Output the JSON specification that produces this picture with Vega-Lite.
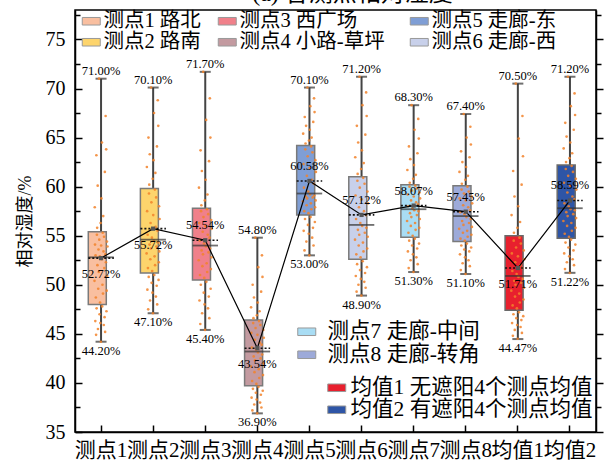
{
  "$schema": "https://vega.github.io/schema/vega-lite/v6.json",
  "width": 521,
  "height": 422,
  "autosize": {"type": "none"},
  "padding": {"left": 75, "top": 10, "right": 19, "bottom": 37},
  "background": "white",
  "title": {"text": "(a) 各测点相对湿度", "fontSize": 24, "font": "Liberation Serif, Noto Sans CJK SC", "fontWeight": "normal", "color": "#000", "anchor": "middle", "offset": 4, "dx": 17},
  "config": {
    "font": "Liberation Serif, Noto Sans CJK SC",
    "view": {"stroke": "#000", "strokeWidth": 1.5},
    "axis": {"domainColor": "#000", "domainWidth": 1.5, "tickColor": "#000", "tickWidth": 1.5, "labelColor": "#000", "titleColor": "#000", "labelFont": "Liberation Serif, Noto Sans CJK SC", "titleFont": "Liberation Serif, Noto Sans CJK SC", "titleFontWeight": "normal", "grid": false},
    "legend": {"labelFont": "Liberation Serif, Noto Sans CJK SC", "labelFontSize": 20.5, "labelColor": "#000", "symbolSize": 324, "symbolStrokeColor": "#999", "symbolStrokeWidth": 1, "symbolOpacity": 1, "padding": 0, "labelLimit": 400, "symbolType": "M-1,-0.42H1V0.42H-1Z"}
  },
  "datasets": {
    "stats": [
      {"site": "测点1", "label": "测点1 路北", "min": 44.20, "q1": 48.0, "median": 52.8, "q3": 55.4, "max": 71.00, "mean": 52.72},
      {"site": "测点2", "label": "测点2 路南", "min": 47.10, "q1": 51.2, "median": 54.6, "q3": 59.8, "max": 70.10, "mean": 55.72},
      {"site": "测点3", "label": "测点3 西广场", "min": 45.40, "q1": 50.5, "median": 54.0, "q3": 57.8, "max": 71.70, "mean": 54.54},
      {"site": "测点4", "label": "测点4 小路-草坪", "min": 36.90, "q1": 39.7, "median": 43.2, "q3": 46.4, "max": 54.80, "mean": 43.54},
      {"site": "测点5", "label": "测点5 走廊-东", "min": 53.00, "q1": 57.1, "median": 59.3, "q3": 64.2, "max": 70.10, "mean": 60.58},
      {"site": "测点6", "label": "测点6 走廊-西", "min": 48.90, "q1": 52.6, "median": 56.1, "q3": 61.0, "max": 71.20, "mean": 57.12},
      {"site": "测点7", "label": "测点7 走廊-中间", "min": 51.30, "q1": 54.85, "median": 57.7, "q3": 60.2, "max": 68.30, "mean": 58.07},
      {"site": "测点8", "label": "测点8 走廊-转角", "min": 51.10, "q1": 54.4, "median": 57.0, "q3": 60.1, "max": 67.40, "mean": 57.45},
      {"site": "均值1", "label": "均值1 无遮阳4个测点均值", "min": 44.47, "q1": 47.4, "median": 50.9, "q3": 55.0, "max": 70.50, "mean": 51.71},
      {"site": "均值2", "label": "均值2 有遮阳4个测点均值", "min": 51.22, "q1": 54.74, "median": 57.8, "q3": 62.2, "max": 71.20, "mean": 58.59}
    ],
    "samples": [
      {"site":"测点1","n":1,"rh":50.4},{"site":"测点1","n":2,"rh":57.9},{"site":"测点1","n":3,"rh":54.1},{"site":"测点1","n":4,"rh":46.3},{"site":"测点1","n":5,"rh":53.0},{"site":"测点1","n":6,"rh":48.7},{"site":"测点1","n":7,"rh":44.9},{"site":"测点1","n":8,"rh":63.2},{"site":"测点1","n":9,"rh":47.6},{"site":"测点1","n":10,"rh":55.1},
      {"site":"测点1","n":11,"rh":55.8},{"site":"测点1","n":12,"rh":52.0},{"site":"测点1","n":13,"rh":60.1},{"site":"测点1","n":14,"rh":45.5},{"site":"测点1","n":15,"rh":49.6},{"site":"测点1","n":16,"rh":53.6},{"site":"测点1","n":17,"rh":51.3},{"site":"测点1","n":18,"rh":71.0},{"site":"测点1","n":19,"rh":54.6},{"site":"测点1","n":20,"rh":47.0},
      {"site":"测点1","n":21,"rh":52.9},{"site":"测点1","n":22,"rh":48.2},{"site":"测点1","n":23,"rh":46.1},{"site":"测点1","n":24,"rh":56.3},{"site":"测点1","n":25,"rh":44.2},{"site":"测点1","n":26,"rh":54.0},{"site":"测点1","n":27,"rh":58.8},{"site":"测点1","n":28,"rh":52.6},{"site":"测点1","n":29,"rh":64.5},{"site":"测点1","n":30,"rh":47.8},
      {"site":"测点1","n":31,"rh":50.0},{"site":"测点1","n":32,"rh":55.3},{"site":"测点1","n":33,"rh":49.1},{"site":"测点1","n":34,"rh":57.0},{"site":"测点1","n":35,"rh":53.4},{"site":"测点1","n":36,"rh":45.9},{"site":"测点1","n":37,"rh":54.9},{"site":"测点1","n":38,"rh":51.7},{"site":"测点1","n":39,"rh":46.7},{"site":"测点1","n":40,"rh":61.5},
      {"site":"测点1","n":41,"rh":45.2},{"site":"测点1","n":42,"rh":53.1},{"site":"测点1","n":43,"rh":67.2},{"site":"测点1","n":44,"rh":52.3},{"site":"测点1","n":45,"rh":63.8},{"site":"测点1","n":46,"rh":47.3},{"site":"测点1","n":47,"rh":49.4},{"site":"测点1","n":48,"rh":54.4},{"site":"测点1","n":49,"rh":50.9},{"site":"测点1","n":50,"rh":53.9},

      {"site":"测点2","n":1,"rh":53.2},{"site":"测点2","n":2,"rh":62.0},{"site":"测点2","n":3,"rh":57.5},{"site":"测点2","n":4,"rh":49.5},{"site":"测点2","n":5,"rh":55.1},{"site":"测点2","n":6,"rh":51.7},{"site":"测点2","n":7,"rh":47.5},{"site":"测点2","n":8,"rh":65.0},{"site":"测点2","n":9,"rh":50.8},{"site":"测点2","n":10,"rh":59.3},
      {"site":"测点2","n":11,"rh":60.2},{"site":"测点2","n":12,"rh":54.1},{"site":"测点2","n":13,"rh":63.3},{"site":"测点2","n":14,"rh":48.4},{"site":"测点2","n":15,"rh":52.6},{"site":"测点2","n":16,"rh":56.3},{"site":"测点2","n":17,"rh":53.7},{"site":"测点2","n":18,"rh":70.1},{"site":"测点2","n":19,"rh":58.4},{"site":"测点2","n":20,"rh":50.2},
      {"site":"测点2","n":21,"rh":54.8},{"site":"测点2","n":22,"rh":51.4},{"site":"测点2","n":23,"rh":49.2},{"site":"测点2","n":24,"rh":60.8},{"site":"测点2","n":25,"rh":47.1},{"site":"测点2","n":26,"rh":57.1},{"site":"测点2","n":27,"rh":62.7},{"site":"测点2","n":28,"rh":54.5},{"site":"测点2","n":29,"rh":67.5},{"site":"测点2","n":30,"rh":51.0},
      {"site":"测点2","n":31,"rh":52.9},{"site":"测点2","n":32,"rh":59.7},{"site":"测点2","n":33,"rh":52.0},{"site":"测点2","n":34,"rh":61.4},{"site":"测点2","n":35,"rh":55.9},{"site":"测点2","n":36,"rh":48.8},{"site":"测点2","n":37,"rh":58.9},{"site":"测点2","n":38,"rh":53.9},{"site":"测点2","n":39,"rh":49.9},{"site":"测点2","n":40,"rh":64.1},
      {"site":"测点2","n":41,"rh":48.0},{"site":"测点2","n":42,"rh":55.5},{"site":"测点2","n":43,"rh":68.8},{"site":"测点2","n":44,"rh":54.3},{"site":"测点2","n":45,"rh":66.2},{"site":"测点2","n":46,"rh":50.5},{"site":"测点2","n":47,"rh":52.3},{"site":"测点2","n":48,"rh":58.0},{"site":"测点2","n":49,"rh":53.4},{"site":"测点2","n":50,"rh":56.7},

      {"site":"测点3","n":1,"rh":52.5},{"site":"测点3","n":2,"rh":59.9},{"site":"测点3","n":3,"rh":56.3},{"site":"测点3","n":4,"rh":48.4},{"site":"测点3","n":5,"rh":54.5},{"site":"测点3","n":6,"rh":51.0},{"site":"测点3","n":7,"rh":46.0},{"site":"测点3","n":8,"rh":63.7},{"site":"测点3","n":9,"rh":50.0},{"site":"测点3","n":10,"rh":57.5},
      {"site":"测点3","n":11,"rh":58.1},{"site":"测点3","n":12,"rh":53.5},{"site":"测点3","n":13,"rh":61.6},{"site":"测点3","n":14,"rh":47.1},{"site":"测点3","n":15,"rh":51.9},{"site":"测点3","n":16,"rh":55.4},{"site":"测点3","n":17,"rh":53.1},{"site":"测点3","n":18,"rh":71.7},{"site":"测点3","n":19,"rh":56.9},{"site":"测点3","n":20,"rh":49.2},
      {"site":"测点3","n":21,"rh":54.2},{"site":"测点3","n":22,"rh":50.7},{"site":"测点3","n":23,"rh":48.0},{"site":"测点3","n":24,"rh":58.6},{"site":"测点3","n":25,"rh":45.4},{"site":"测点3","n":26,"rh":56.0},{"site":"测点3","n":27,"rh":60.7},{"site":"测点3","n":28,"rh":53.9},{"site":"测点3","n":29,"rh":66.8},{"site":"测点3","n":30,"rh":50.3},
      {"site":"测点3","n":31,"rh":52.2},{"site":"测点3","n":32,"rh":57.7},{"site":"测点3","n":33,"rh":51.3},{"site":"测点3","n":34,"rh":59.2},{"site":"测点3","n":35,"rh":55.1},{"site":"测点3","n":36,"rh":47.6},{"site":"测点3","n":37,"rh":57.2},{"site":"测点3","n":38,"rh":53.3},{"site":"测点3","n":39,"rh":48.8},{"site":"测点3","n":40,"rh":62.6},
      {"site":"测点3","n":41,"rh":46.6},{"site":"测点3","n":42,"rh":54.8},{"site":"测点3","n":43,"rh":69.0},{"site":"测点3","n":44,"rh":53.7},{"site":"测点3","n":45,"rh":65.0},{"site":"测点3","n":46,"rh":49.6},{"site":"测点3","n":47,"rh":51.6},{"site":"测点3","n":48,"rh":56.6},{"site":"测点3","n":49,"rh":52.8},{"site":"测点3","n":50,"rh":55.7},

      {"site":"测点4","n":1,"rh":41.7},{"site":"测点4","n":2,"rh":47.7},{"site":"测点4","n":3,"rh":45.1},{"site":"测点4","n":4,"rh":38.5},{"site":"测点4","n":5,"rh":43.6},{"site":"测点4","n":6,"rh":40.2},{"site":"测点4","n":7,"rh":37.2},{"site":"测点4","n":8,"rh":50.0},{"site":"测点4","n":9,"rh":39.4},{"site":"测点4","n":10,"rh":46.1},
      {"site":"测点4","n":11,"rh":46.6},{"site":"测点4","n":12,"rh":42.7},{"site":"测点4","n":13,"rh":48.7},{"site":"测点4","n":14,"rh":37.8},{"site":"测点4","n":15,"rh":41.1},{"site":"测点4","n":16,"rh":44.4},{"site":"测点4","n":17,"rh":42.3},{"site":"测点4","n":18,"rh":54.8},{"site":"测点4","n":19,"rh":45.6},{"site":"测点4","n":20,"rh":39.0},
      {"site":"测点4","n":21,"rh":43.4},{"site":"测点4","n":22,"rh":39.9},{"site":"测点4","n":23,"rh":38.3},{"site":"测点4","n":24,"rh":46.9},{"site":"测点4","n":25,"rh":36.9},{"site":"测点4","n":26,"rh":44.9},{"site":"测点4","n":27,"rh":48.2},{"site":"测点4","n":28,"rh":43.1},{"site":"测点4","n":29,"rh":51.8},{"site":"测点4","n":30,"rh":39.6},
      {"site":"测点4","n":31,"rh":41.4},{"site":"测点4","n":32,"rh":46.3},{"site":"测点4","n":33,"rh":40.5},{"site":"测点4","n":34,"rh":47.3},{"site":"测点4","n":35,"rh":44.1},{"site":"测点4","n":36,"rh":38.0},{"site":"测点4","n":37,"rh":45.9},{"site":"测点4","n":38,"rh":42.5},{"site":"测点4","n":39,"rh":38.8},{"site":"测点4","n":40,"rh":49.3},
      {"site":"测点4","n":41,"rh":37.5},{"site":"测点4","n":42,"rh":43.9},{"site":"测点4","n":43,"rh":53.0},{"site":"测点4","n":44,"rh":42.9},{"site":"测点4","n":45,"rh":50.8},{"site":"测点4","n":46,"rh":39.2},{"site":"测点4","n":47,"rh":40.8},{"site":"测点4","n":48,"rh":45.4},{"site":"测点4","n":49,"rh":42.0},{"site":"测点4","n":50,"rh":44.6},

      {"site":"测点5","n":1,"rh":58.5},{"site":"测点5","n":2,"rh":65.4},{"site":"测点5","n":3,"rh":62.3},{"site":"测点5","n":4,"rh":55.5},{"site":"测点5","n":5,"rh":59.9},{"site":"测点5","n":6,"rh":57.5},{"site":"测点5","n":7,"rh":53.5},{"site":"测点5","n":8,"rh":67.1},{"site":"测点5","n":9,"rh":56.7},{"site":"测点5","n":10,"rh":63.8},
      {"site":"测点5","n":11,"rh":64.4},{"site":"测点5","n":12,"rh":59.0},{"site":"测点5","n":13,"rh":66.2},{"site":"测点5","n":14,"rh":54.4},{"site":"测点5","n":15,"rh":58.1},{"site":"测点5","n":16,"rh":61.1},{"site":"测点5","n":17,"rh":58.8},{"site":"测点5","n":18,"rh":70.1},{"site":"测点5","n":19,"rh":63.1},{"site":"测点5","n":20,"rh":56.1},
      {"site":"测点5","n":21,"rh":59.5},{"site":"测点5","n":22,"rh":57.3},{"site":"测点5","n":23,"rh":55.2},{"site":"测点5","n":24,"rh":64.7},{"site":"测点5","n":25,"rh":53.0},{"site":"测点5","n":26,"rh":61.9},{"site":"测点5","n":27,"rh":65.8},{"site":"测点5","n":28,"rh":59.2},{"site":"测点5","n":29,"rh":68.2},{"site":"测点5","n":30,"rh":56.9},
      {"site":"测点5","n":31,"rh":58.3},{"site":"测点5","n":32,"rh":64.1},{"site":"测点5","n":33,"rh":57.7},{"site":"测点5","n":34,"rh":65.0},{"site":"测点5","n":35,"rh":60.7},{"site":"测点5","n":36,"rh":54.8},{"site":"测点5","n":37,"rh":63.5},{"site":"测点5","n":38,"rh":58.9},{"site":"测点5","n":39,"rh":55.8},{"site":"测点5","n":40,"rh":66.6},
      {"site":"测点5","n":41,"rh":54.0},{"site":"测点5","n":42,"rh":60.3},{"site":"测点5","n":43,"rh":69.0},{"site":"测点5","n":44,"rh":59.1},{"site":"测点5","n":45,"rh":67.6},{"site":"测点5","n":46,"rh":56.4},{"site":"测点5","n":47,"rh":57.9},{"site":"测点5","n":48,"rh":62.7},{"site":"测点5","n":49,"rh":58.6},{"site":"测点5","n":50,"rh":61.5},

      {"site":"测点6","n":1,"rh":54.6},{"site":"测点6","n":2,"rh":63.0},{"site":"测点6","n":3,"rh":59.1},{"site":"测点6","n":4,"rh":50.9},{"site":"测点6","n":5,"rh":56.7},{"site":"测点6","n":6,"rh":53.1},{"site":"测点6","n":7,"rh":49.3},{"site":"测点6","n":8,"rh":66.2},{"site":"测点6","n":9,"rh":52.1},{"site":"测点6","n":10,"rh":60.6},
      {"site":"测点6","n":11,"rh":61.3},{"site":"测点6","n":12,"rh":55.6},{"site":"测点6","n":13,"rh":64.5},{"site":"测点6","n":14,"rh":50.0},{"site":"测点6","n":15,"rh":54.0},{"site":"测点6","n":16,"rh":57.9},{"site":"测点6","n":17,"rh":55.1},{"site":"测点6","n":18,"rh":71.2},{"site":"测点6","n":19,"rh":59.9},{"site":"测点6","n":20,"rh":51.5},
      {"site":"测点6","n":21,"rh":56.3},{"site":"测点6","n":22,"rh":52.8},{"site":"测点6","n":23,"rh":50.6},{"site":"测点6","n":24,"rh":61.8},{"site":"测点6","n":25,"rh":48.9},{"site":"测点6","n":26,"rh":58.7},{"site":"测点6","n":27,"rh":63.7},{"site":"测点6","n":28,"rh":56.0},{"site":"测点6","n":29,"rh":68.3},{"site":"测点6","n":30,"rh":52.4},
      {"site":"测点6","n":31,"rh":54.3},{"site":"测点6","n":32,"rh":60.9},{"site":"测点6","n":33,"rh":53.4},{"site":"测点6","n":34,"rh":62.4},{"site":"测点6","n":35,"rh":57.5},{"site":"测点6","n":36,"rh":50.3},{"site":"测点6","n":37,"rh":60.3},{"site":"测点6","n":38,"rh":55.3},{"site":"测点6","n":39,"rh":51.2},{"site":"测点6","n":40,"rh":65.3},
      {"site":"测点6","n":41,"rh":49.7},{"site":"测点6","n":42,"rh":57.1},{"site":"测点6","n":43,"rh":69.6},{"site":"测点6","n":44,"rh":55.8},{"site":"测点6","n":45,"rh":67.2},{"site":"测点6","n":46,"rh":51.8},{"site":"测点6","n":47,"rh":53.7},{"site":"测点6","n":48,"rh":59.5},{"site":"测点6","n":49,"rh":54.9},{"site":"测点6","n":50,"rh":58.3},

      {"site":"测点7","n":1,"rh":56.5},{"site":"测点7","n":2,"rh":61.7},{"site":"测点7","n":3,"rh":59.2},{"site":"测点7","n":4,"rh":53.4},{"site":"测点7","n":5,"rh":58.0},{"site":"测点7","n":6,"rh":55.3},{"site":"测点7","n":7,"rh":51.7},{"site":"测点7","n":8,"rh":64.1},{"site":"测点7","n":9,"rh":54.5},{"site":"测点7","n":10,"rh":60.0},
      {"site":"测点7","n":11,"rh":60.4},{"site":"测点7","n":12,"rh":57.3},{"site":"测点7","n":13,"rh":62.8},{"site":"测点7","n":14,"rh":52.5},{"site":"测点7","n":15,"rh":56.0},{"site":"测点7","n":16,"rh":58.6},{"site":"测点7","n":17,"rh":56.9},{"site":"测点7","n":18,"rh":68.3},{"site":"测点7","n":19,"rh":59.6},{"site":"测点7","n":20,"rh":54.0},
      {"site":"测点7","n":21,"rh":57.8},{"site":"测点7","n":22,"rh":55.0},{"site":"测点7","n":23,"rh":53.1},{"site":"测点7","n":24,"rh":60.8},{"site":"测点7","n":25,"rh":51.3},{"site":"测点7","n":26,"rh":59.0},{"site":"测点7","n":27,"rh":62.2},{"site":"测点7","n":28,"rh":57.6},{"site":"测点7","n":29,"rh":65.8},{"site":"测点7","n":30,"rh":54.7},
      {"site":"测点7","n":31,"rh":56.3},{"site":"测点7","n":32,"rh":60.1},{"site":"测点7","n":33,"rh":55.6},{"site":"测点7","n":34,"rh":61.2},{"site":"测点7","n":35,"rh":58.4},{"site":"测点7","n":36,"rh":52.8},{"site":"测点7","n":37,"rh":59.8},{"site":"测点7","n":38,"rh":57.1},{"site":"测点7","n":39,"rh":53.7},{"site":"测点7","n":40,"rh":63.4},
      {"site":"测点7","n":41,"rh":52.1},{"site":"测点7","n":42,"rh":58.2},{"site":"测点7","n":43,"rh":66.9},{"site":"测点7","n":44,"rh":57.5},{"site":"测点7","n":45,"rh":64.9},{"site":"测点7","n":46,"rh":54.2},{"site":"测点7","n":47,"rh":55.8},{"site":"测点7","n":48,"rh":59.4},{"site":"测点7","n":49,"rh":56.7},{"site":"测点7","n":50,"rh":58.8},

      {"site":"测点8","n":1,"rh":55.7},{"site":"测点8","n":2,"rh":61.5},{"site":"测点8","n":3,"rh":58.8},{"site":"测点8","n":4,"rh":53.1},{"site":"测点8","n":5,"rh":57.4},{"site":"测点8","n":6,"rh":54.7},{"site":"测点8","n":7,"rh":51.5},{"site":"测点8","n":8,"rh":63.6},{"site":"测点8","n":9,"rh":54.0},{"site":"测点8","n":10,"rh":59.7},
      {"site":"测点8","n":11,"rh":60.3},{"site":"测点8","n":12,"rh":56.5},{"site":"测点8","n":13,"rh":62.5},{"site":"测点8","n":14,"rh":52.2},{"site":"测点8","n":15,"rh":55.3},{"site":"测点8","n":16,"rh":58.1},{"site":"测点8","n":17,"rh":56.1},{"site":"测点8","n":18,"rh":67.4},{"site":"测点8","n":19,"rh":59.3},{"site":"测点8","n":20,"rh":53.6},
      {"site":"测点8","n":21,"rh":57.2},{"site":"测点8","n":22,"rh":54.5},{"site":"测点8","n":23,"rh":52.8},{"site":"测点8","n":24,"rh":60.7},{"site":"测点8","n":25,"rh":51.1},{"site":"测点8","n":26,"rh":58.6},{"site":"测点8","n":27,"rh":62.0},{"site":"测点8","n":28,"rh":56.9},{"site":"测点8","n":29,"rh":65.0},{"site":"测点8","n":30,"rh":54.2},
      {"site":"测点8","n":31,"rh":55.5},{"site":"测点8","n":32,"rh":60.0},{"site":"测点8","n":33,"rh":54.9},{"site":"测点8","n":34,"rh":61.1},{"site":"测点8","n":35,"rh":57.9},{"site":"测点8","n":36,"rh":52.5},{"site":"测点8","n":37,"rh":59.5},{"site":"测点8","n":38,"rh":56.3},{"site":"测点8","n":39,"rh":53.4},{"site":"测点8","n":40,"rh":63.0},
      {"site":"测点8","n":41,"rh":51.9},{"site":"测点8","n":42,"rh":57.6},{"site":"测点8","n":43,"rh":66.1},{"site":"测点8","n":44,"rh":56.7},{"site":"测点8","n":45,"rh":64.3},{"site":"测点8","n":46,"rh":53.8},{"site":"测点8","n":47,"rh":55.1},{"site":"测点8","n":48,"rh":59.0},{"site":"测点8","n":49,"rh":55.9},{"site":"测点8","n":50,"rh":58.3},

      {"site":"均值1","n":1,"rh":49.4},{"site":"均值1","n":2,"rh":57.1},{"site":"均值1","n":3,"rh":53.2},{"site":"均值1","n":4,"rh":46.1},{"site":"均值1","n":5,"rh":51.4},{"site":"均值1","n":6,"rh":47.9},{"site":"均值1","n":7,"rh":44.8},{"site":"均值1","n":8,"rh":61.6},{"site":"均值1","n":9,"rh":47.0},{"site":"均值1","n":10,"rh":54.5},
      {"site":"均值1","n":11,"rh":55.3},{"site":"均值1","n":12,"rh":50.4},{"site":"均值1","n":13,"rh":59.0},{"site":"均值1","n":14,"rh":45.4},{"site":"均值1","n":15,"rh":48.8},{"site":"均值1","n":16,"rh":52.3},{"site":"均值1","n":17,"rh":50.0},{"site":"均值1","n":18,"rh":70.5},{"site":"均值1","n":19,"rh":53.8},{"site":"均值1","n":20,"rh":46.6},
      {"site":"均值1","n":21,"rh":51.1},{"site":"均值1","n":22,"rh":47.6},{"site":"均值1","n":23,"rh":45.9},{"site":"均值1","n":24,"rh":55.8},{"site":"均值1","n":25,"rh":44.5},{"site":"均值1","n":26,"rh":52.9},{"site":"均值1","n":27,"rh":58.0},{"site":"均值1","n":28,"rh":50.8},{"site":"均值1","n":29,"rh":64.9},{"site":"均值1","n":30,"rh":47.2},
      {"site":"均值1","n":31,"rh":49.1},{"site":"均值1","n":32,"rh":54.8},{"site":"均值1","n":33,"rh":48.2},{"site":"均值1","n":34,"rh":56.4},{"site":"均值1","n":35,"rh":52.0},{"site":"均值1","n":36,"rh":45.7},{"site":"均值1","n":37,"rh":54.2},{"site":"均值1","n":38,"rh":50.2},{"site":"均值1","n":39,"rh":46.4},{"site":"均值1","n":40,"rh":60.2},
      {"site":"均值1","n":41,"rh":45.1},{"site":"均值1","n":42,"rh":51.7},{"site":"均值1","n":43,"rh":67.2},{"site":"均值1","n":44,"rh":50.6},{"site":"均值1","n":45,"rh":63.1},{"site":"均值1","n":46,"rh":46.8},{"site":"均值1","n":47,"rh":48.5},{"site":"均值1","n":48,"rh":53.5},{"site":"均值1","n":49,"rh":49.7},{"site":"均值1","n":50,"rh":52.6},

      {"site":"均值2","n":1,"rh":56.5},{"site":"均值2","n":2,"rh":63.9},{"site":"均值2","n":3,"rh":60.4},{"site":"均值2","n":4,"rh":53.2},{"site":"均值2","n":5,"rh":58.3},{"site":"均值2","n":6,"rh":55.2},{"site":"均值2","n":7,"rh":51.6},{"site":"均值2","n":8,"rh":66.5},{"site":"均值2","n":9,"rh":54.3},{"site":"均值2","n":10,"rh":61.8},
      {"site":"均值2","n":11,"rh":62.5},{"site":"均值2","n":12,"rh":57.4},{"site":"均值2","n":13,"rh":65.1},{"site":"均值2","n":14,"rh":52.3},{"site":"均值2","n":15,"rh":56.0},{"site":"均值2","n":16,"rh":59.4},{"site":"均值2","n":17,"rh":57.0},{"site":"均值2","n":18,"rh":71.2},{"site":"均值2","n":19,"rh":61.1},{"site":"均值2","n":20,"rh":53.8},
      {"site":"均值2","n":21,"rh":58.0},{"site":"均值2","n":22,"rh":54.9},{"site":"均值2","n":23,"rh":52.9},{"site":"均值2","n":24,"rh":62.9},{"site":"均值2","n":25,"rh":51.2},{"site":"均值2","n":26,"rh":60.1},{"site":"均值2","n":27,"rh":64.5},{"site":"均值2","n":28,"rh":57.7},{"site":"均值2","n":29,"rh":68.2},{"site":"均值2","n":30,"rh":54.6},
      {"site":"均值2","n":31,"rh":56.3},{"site":"均值2","n":32,"rh":62.1},{"site":"均值2","n":33,"rh":55.5},{"site":"均值2","n":34,"rh":63.4},{"site":"均值2","n":35,"rh":59.0},{"site":"均值2","n":36,"rh":52.6},{"site":"均值2","n":37,"rh":61.5},{"site":"均值2","n":38,"rh":57.2},{"site":"均值2","n":39,"rh":53.5},{"site":"均值2","n":40,"rh":65.8},
      {"site":"均值2","n":41,"rh":52.0},{"site":"均值2","n":42,"rh":58.7},{"site":"均值2","n":43,"rh":69.5},{"site":"均值2","n":44,"rh":57.6},{"site":"均值2","n":45,"rh":67.3},{"site":"均值2","n":46,"rh":54.1},{"site":"均值2","n":47,"rh":55.8},{"site":"均值2","n":48,"rh":60.8},{"site":"均值2","n":49,"rh":56.8},{"site":"均值2","n":50,"rh":59.7}
    ]
  },
  "encoding": {
    "x": {
      "field": "site", "type": "nominal",
      "sort": ["测点1", "测点2", "测点3", "测点4", "测点5", "测点6", "测点7", "测点8", "均值1", "均值2"],
      "scale": {"paddingInner": 0, "paddingOuter": 0},
      "axis": {"title": null, "orient": "bottom", "labelAngle": 0, "labelFontSize": 21, "tickSize": -7, "labelPadding": 14, "labelOverlap": false, "labelBaseline": "top"}
    }
  },
  "layer": [
    {
      "data": {"name": "stats"},
      "mark": {"type": "rule", "color": "#444", "strokeWidth": 2},
      "encoding": {
        "y": {
          "field": "min", "type": "quantitative",
          "scale": {"domain": [35, 78], "nice": false, "zero": false},
          "axis": {
            "orient": "left", "title": "相对湿度/%", "titleFontSize": 18, "titlePadding": 11,
            "values": [35, 37.5, 40, 42.5, 45, 47.5, 50, 52.5, 55, 57.5, 60, 62.5, 65, 67.5, 70, 72.5, 75, 77.5],
            "labelExpr": "datum.value % 5 === 0 ? datum.label : ''",
            "labelFontSize": 20, "labelPadding": 17,
            "tickSize": {"condition": {"test": "datum.value % 5 === 0", "value": -7}, "value": -5}
          }
        },
        "y2": {"field": "max"}
      }
    },
    {
      "data": {"name": "stats"},
      "mark": {"type": "tick", "color": "#333", "size": 11, "thickness": 2},
      "encoding": {"y": {"field": "min", "type": "quantitative", "scale": {"domain": [35, 78], "nice": false, "zero": false}, "axis": null}}
    },
    {
      "data": {"name": "stats"},
      "mark": {"type": "tick", "color": "#333", "size": 11, "thickness": 2},
      "encoding": {"y": {"field": "max", "type": "quantitative", "scale": {"domain": [35, 78], "nice": false, "zero": false}, "axis": null}}
    },
    {
      "data": {"name": "stats"},
      "transform": [{"filter": {"field": "site", "oneOf": ["测点1", "测点2"]}}],
      "mark": {"type": "bar", "width": {"band": 0.49}, "stroke": "#7a7a7a", "strokeWidth": 1.5, "opacity": 1},
      "encoding": {
        "y": {"field": "q1", "type": "quantitative", "scale": {"domain": [35, 78], "nice": false, "zero": false}, "axis": null},
        "y2": {"field": "q3"},
        "fill": {
          "field": "label", "type": "nominal",
          "scale": {"domain": ["测点1 路北", "测点2 路南"], "range": ["#F9BFA0", "#FDD46C"]},
          "legend": {"title": null, "orient": "none", "legendX": 6, "legendY": 1, "rowPadding": -0.5, "labelOffset": 2}
        }
      }
    },
    {
      "data": {"name": "stats"},
      "transform": [{"filter": {"field": "site", "oneOf": ["测点3", "测点4"]}}],
      "mark": {"type": "bar", "width": {"band": 0.49}, "stroke": "#7a7a7a", "strokeWidth": 1.5, "opacity": 1},
      "encoding": {
        "y": {"field": "q1", "type": "quantitative", "scale": {"domain": [35, 78], "nice": false, "zero": false}, "axis": null},
        "y2": {"field": "q3"},
        "fill": {
          "field": "label", "type": "nominal",
          "scale": {"domain": ["测点3 西广场", "测点4 小路-草坪"], "range": ["#F0808A", "#C39AA0"]},
          "legend": {"title": null, "orient": "none", "legendX": 142, "legendY": 1, "rowPadding": -0.5, "labelOffset": 2}
        }
      }
    },
    {
      "data": {"name": "stats"},
      "transform": [{"filter": {"field": "site", "oneOf": ["测点5", "测点6"]}}],
      "mark": {"type": "bar", "width": {"band": 0.49}, "stroke": "#7a7a7a", "strokeWidth": 1.5, "opacity": 1},
      "encoding": {
        "y": {"field": "q1", "type": "quantitative", "scale": {"domain": [35, 78], "nice": false, "zero": false}, "axis": null},
        "y2": {"field": "q3"},
        "fill": {
          "field": "label", "type": "nominal",
          "scale": {"domain": ["测点5 走廊-东", "测点6 走廊-西"], "range": ["#7F9ED5", "#C8D0EA"]},
          "legend": {"title": null, "orient": "none", "legendX": 334, "legendY": 1, "rowPadding": -0.5, "labelOffset": 2}
        }
      }
    },
    {
      "data": {"name": "stats"},
      "transform": [{"filter": {"field": "site", "oneOf": ["测点7", "测点8"]}}],
      "mark": {"type": "bar", "width": {"band": 0.49}, "stroke": "#7a7a7a", "strokeWidth": 1.5, "opacity": 1},
      "encoding": {
        "y": {"field": "q1", "type": "quantitative", "scale": {"domain": [35, 78], "nice": false, "zero": false}, "axis": null},
        "y2": {"field": "q3"},
        "fill": {
          "field": "label", "type": "nominal",
          "scale": {"domain": ["测点7 走廊-中间", "测点8 走廊-转角"], "range": ["#A9DDF4", "#9DAAD9"]},
          "legend": {"title": null, "orient": "none", "legendX": 221, "legendY": 311, "rowPadding": 0, "labelOffset": 10, "labelFontSize": 21.5}
        }
      }
    },
    {
      "data": {"name": "stats"},
      "transform": [{"filter": {"field": "site", "oneOf": ["均值1", "均值2"]}}],
      "mark": {"type": "bar", "width": {"band": 0.49}, "stroke": "#6a6a6a", "strokeWidth": 1.5, "opacity": 1},
      "encoding": {
        "y": {"field": "q1", "type": "quantitative", "scale": {"domain": [35, 78], "nice": false, "zero": false}, "axis": null},
        "y2": {"field": "q3"},
        "fill": {
          "field": "label", "type": "nominal",
          "scale": {"domain": ["均值1 无遮阳4个测点均值", "均值2 有遮阳4个测点均值"], "range": ["#E8202E", "#2E55A6"]},
          "legend": {"title": null, "orient": "none", "legendX": 251, "legendY": 367, "rowPadding": -1, "labelOffset": 3, "labelFontSize": 21.5}
        }
      }
    },
    {
      "data": {"name": "samples"},
      "mark": {"type": "circle", "size": 7, "color": "#F2832A", "opacity": 0.85},
      "encoding": {
        "xOffset": {"field": "n", "type": "quantitative", "scale": {"domain": [1, 50], "range": [19.5, 32.5]}},
        "y": {"field": "rh", "type": "quantitative", "scale": {"domain": [35, 78], "nice": false, "zero": false}, "axis": null}
      }
    },
    {
      "data": {"name": "stats"},
      "mark": {"type": "tick", "color": "#333", "size": 25.5, "thickness": 1.8},
      "encoding": {"y": {"field": "median", "type": "quantitative", "scale": {"domain": [35, 78], "nice": false, "zero": false}, "axis": null}}
    },
    {
      "data": {"name": "stats"},
      "mark": {"type": "rule", "color": "#111", "strokeWidth": 1.6, "strokeDash": [2, 2]},
      "encoding": {
        "x": {"field": "site", "type": "nominal", "sort": ["测点1", "测点2", "测点3", "测点4", "测点5", "测点6", "测点7", "测点8", "均值1", "均值2"], "bandPosition": 0.255},
        "x2": {"field": "site", "bandPosition": 0.745},
        "y": {"field": "mean", "type": "quantitative", "scale": {"domain": [35, 78], "nice": false, "zero": false}, "axis": null}
      }
    },
    {
      "data": {"name": "stats"},
      "mark": {"type": "line", "color": "#000", "strokeWidth": 1.2},
      "encoding": {
        "y": {
          "field": "mean", "type": "quantitative",
          "scale": {"domain": [35, 78], "nice": false, "zero": false},
          "axis": {
            "orient": "right", "title": null, "labels": false,
            "values": [35, 37.5, 40, 42.5, 45, 47.5, 50, 52.5, 55, 57.5, 60, 62.5, 65, 67.5, 70, 72.5, 75, 77.5],
            "tickSize": {"condition": {"test": "datum.value % 5 === 0", "value": 7}, "value": 5}
          }
        }
      }
    },
    {
      "data": {"name": "stats"},
      "mark": {"type": "square", "size": 18, "color": "#555", "opacity": 1},
      "encoding": {"y": {"field": "mean", "type": "quantitative", "scale": {"domain": [35, 78], "nice": false, "zero": false}, "axis": null}}
    },
    {
      "data": {"name": "stats"},
      "transform": [{"calculate": "format(datum.max, '.2f') + '%'", "as": "maxText"}],
      "mark": {"type": "text", "fontSize": 12.5, "font": "Liberation Serif", "color": "#000", "baseline": "middle", "dy": -8},
      "encoding": {"y": {"field": "max", "type": "quantitative", "scale": {"domain": [35, 78], "nice": false, "zero": false}, "axis": null}, "text": {"field": "maxText"}}
    },
    {
      "data": {"name": "stats"},
      "transform": [{"calculate": "format(datum.min, '.2f') + '%'", "as": "minText"}],
      "mark": {"type": "text", "fontSize": 12.5, "font": "Liberation Serif", "color": "#000", "baseline": "middle", "dy": 9},
      "encoding": {"y": {"field": "min", "type": "quantitative", "scale": {"domain": [35, 78], "nice": false, "zero": false}, "axis": null}, "text": {"field": "minText"}}
    },
    {
      "data": {"name": "stats"},
      "transform": [
        {"filter": {"field": "site", "oneOf": ["测点3", "测点5", "测点6", "测点7", "测点8", "均值2"]}},
        {"calculate": "format(datum.mean, '.2f') + '%'", "as": "meanText"}
      ],
      "mark": {"type": "text", "fontSize": 12.5, "font": "Liberation Serif", "color": "#000", "baseline": "middle", "dy": -15},
      "encoding": {"y": {"field": "mean", "type": "quantitative", "scale": {"domain": [35, 78], "nice": false, "zero": false}, "axis": null}, "text": {"field": "meanText"}}
    },
    {
      "data": {"name": "stats"},
      "transform": [
        {"filter": {"field": "site", "oneOf": ["测点1", "测点2", "测点4", "均值1"]}},
        {"calculate": "format(datum.mean, '.2f') + '%'", "as": "meanText"}
      ],
      "mark": {"type": "text", "fontSize": 12.5, "font": "Liberation Serif", "color": "#000", "baseline": "middle", "dy": 16},
      "encoding": {"y": {"field": "mean", "type": "quantitative", "scale": {"domain": [35, 78], "nice": false, "zero": false}, "axis": null}, "text": {"field": "meanText"}}
    }
  ],
  "resolve": {
    "scale": {"fill": "independent"},
    "legend": {"fill": "independent"},
    "axis": {"y": "independent"}
  }
}
